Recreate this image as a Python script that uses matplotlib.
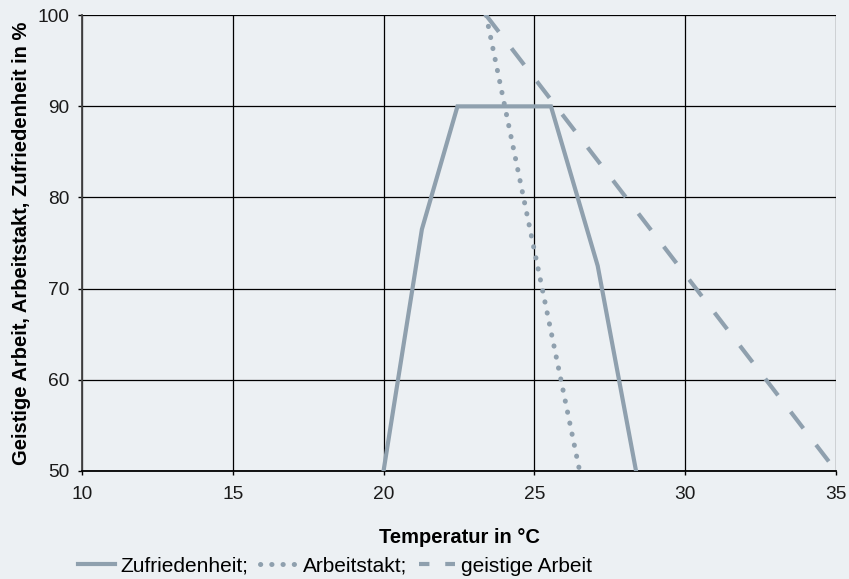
import matplotlib
matplotlib.use("Agg")
import matplotlib.pyplot as plt
from matplotlib.lines import Line2D

# Data
zuf_x = [20.0, 21.27, 22.45, 25.55, 27.1, 28.37]
zuf_y = [50, 76.5, 90, 90, 72.5, 50]
takt_x = [23.4, 26.5]
takt_y = [100, 50]
geist_x = [23.4, 35.0]
geist_y = [100, 50]

x_ticks = [10, 15, 20, 25, 30, 35]
y_ticks = [50, 60, 70, 80, 90, 100]
labels = ["Zufriedenheit;", "Arbeitstakt;", "geistige Arbeit"]

bg = "#ecf0f3"
lc = "#8fa0ae"

plt.rcParams['font.family'] = ['Liberation Sans', 'DejaVu Sans']

fig = plt.figure(figsize=(8.49, 5.79), dpi=100, facecolor=bg)
ax = fig.add_axes([0.0966, 0.187, 0.888, 0.7866])
ax.set_facecolor(bg)

l1, = ax.plot(zuf_x, zuf_y, color=lc, lw=3, solid_joinstyle='miter', label=labels[0], zorder=3)
l2, = ax.plot(takt_x, takt_y, color=lc, lw=3.6, linestyle=(0, (0.05, 2.2)), dash_capstyle='round',
              label=labels[1], zorder=3)
ax.plot(geist_x, geist_y, color=lc, lw=3, linestyle=(0, (5, 5)), dash_capstyle='butt',
        label=labels[2], zorder=3)
l3 = Line2D([], [], color=lc, lw=3, linestyle=(0, (2.5, 3.8)), dash_capstyle='butt')

ax.set_xlim(10, 35)
ax.set_ylim(50, 100)
ax.set_xticks(x_ticks)
ax.set_yticks(y_ticks)
ax.grid(True, color='black', lw=0.9)
ax.set_axisbelow(True)

for s in ['top', 'right']:
    ax.spines[s].set_visible(False)
ax.spines['left'].set_color('#444444')
ax.spines['left'].set_linewidth(1.3)
ax.spines['bottom'].set_color('black')
ax.spines['bottom'].set_linewidth(1.3)

ax.tick_params(axis='both', direction='out', length=3, width=1, labelsize=13.8,
               colors='black', labelcolor='#1a1a1a')
ax.tick_params(axis='x', pad=8)
ax.tick_params(axis='y', pad=6)

ax.set_xlabel("Temperatur in °C", fontsize=14.5, fontweight='bold', labelpad=18)
ax.set_ylabel("Geistige Arbeit, Arbeitstakt, Zufriedenheit in %", fontsize=14.5,
              fontweight='bold', labelpad=5)

fig.legend([l1, l2, l3], labels, loc='center left', bbox_to_anchor=(0.092, 0.022), ncol=3,
           frameon=False, fontsize=15, handlelength=1.75, handletextpad=0.3,
           columnspacing=0.55, borderaxespad=0, borderpad=0)

fig.savefig("out.png", dpi=100, facecolor=bg)
